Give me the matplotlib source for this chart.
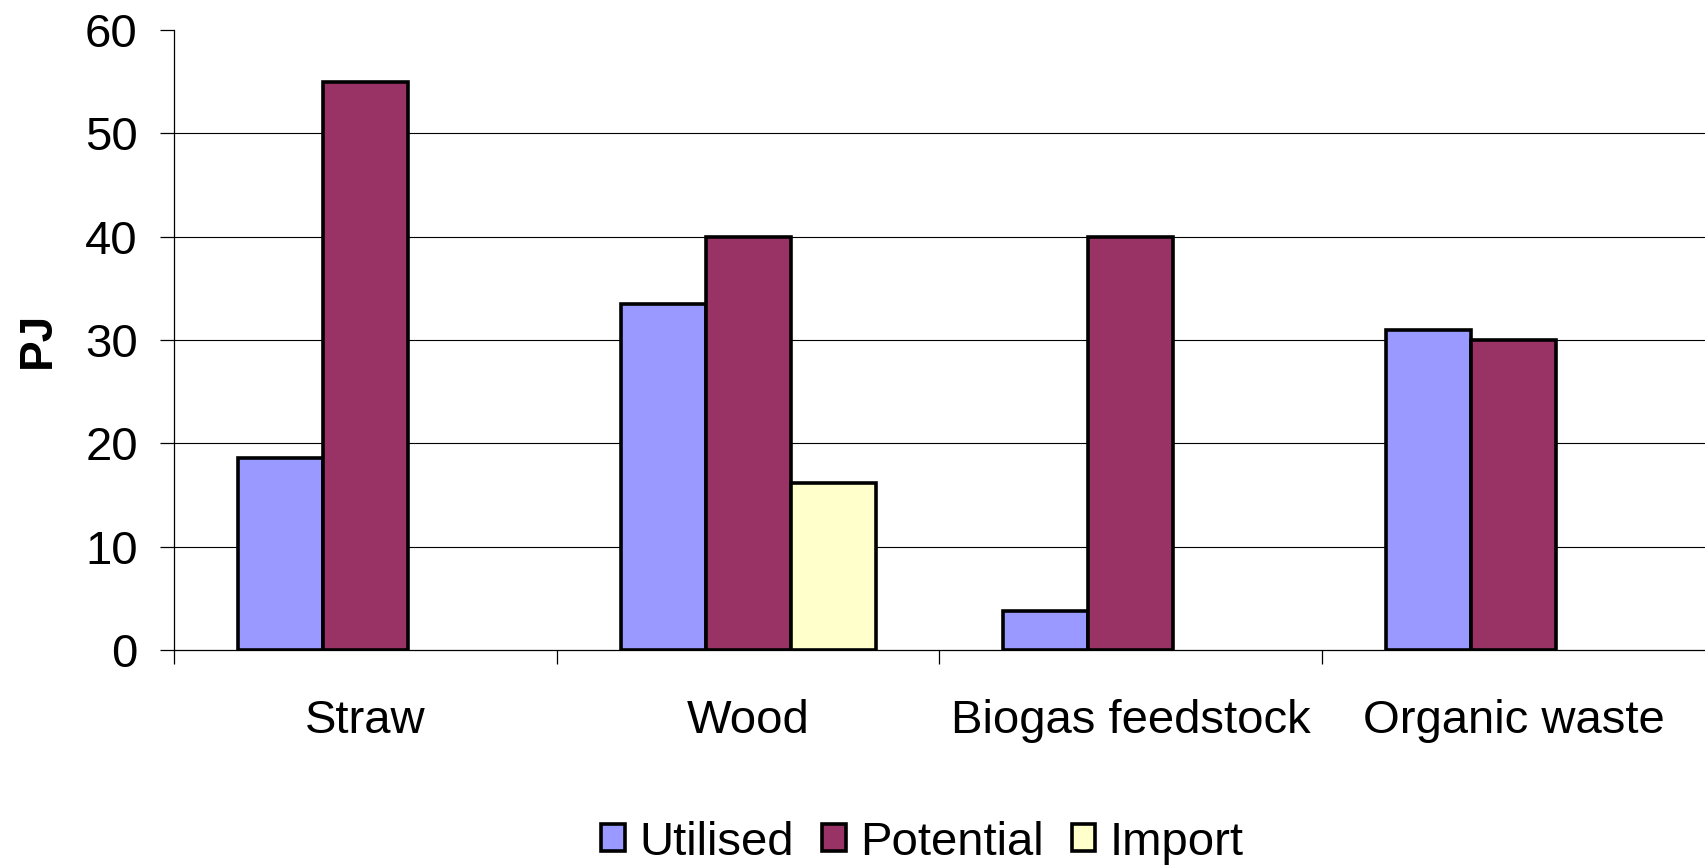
import numpy as np
import matplotlib.pyplot as plt

plt.rcParams['font.family'] = ['Liberation Sans', 'DejaVu Sans']

categories = ['Straw', 'Wood', 'Biogas feedstock', 'Organic waste']
series = ['Utilised', 'Potential', 'Import']
utilised = [18.6, 33.5, 3.8, 31.0]
potential = [55, 40, 40, 30]
imports = [0, 16.2, 0, 0]
colors = ['#9999FF', '#993366', '#FFFFCC']

fig = plt.figure(figsize=(17.05, 8.66), dpi=100)
ax = fig.add_axes([0.102, 0.2494, 0.898, 0.716])

x = np.arange(len(categories))
w = 0.222
for i, (vals, name) in enumerate(zip([utilised, potential, imports], series)):
    pos = x + (i - 1) * w
    vals = np.array(vals, dtype=float)
    mask = vals > 0
    ax.bar(pos[mask], vals[mask], width=w, color=colors[i], edgecolor='black',
           linewidth=2.6, label=name, zorder=3)

ax.set_xlim(-0.5, 3.5)
ax.set_ylim(0, 60)
ax.set_yticks(range(0, 61, 10))
for y in range(10, 60, 10):
    ax.axhline(y, color='black', linewidth=0.8, zorder=1)

ax.spines['top'].set_visible(False)
ax.spines['right'].set_visible(False)
ax.spines['left'].set_linewidth(0.9)
ax.spines['bottom'].set_linewidth(0.9)

ax.set_xticks(np.arange(-0.5, 3.5, 1.0))
ax.set_xticklabels([])
ax.set_xticks(x, minor=True)
ax.set_xticklabels(categories, minor=True)
ax.tick_params(axis='x', which='major', length=10, width=0.9)
ax.tick_params(axis='x', which='minor', length=0, pad=35, labelsize=34)
ax.tick_params(axis='y', length=10, width=0.9, pad=16, labelsize=34)

ax.set_ylabel('PJ', fontsize=33, fontweight='bold', labelpad=18)

fig.legend(loc='center', bbox_to_anchor=(0.541, 0.027), ncol=3, frameon=False,
           fontsize=34, handlelength=0.5, handleheight=0.5, handletextpad=0.3,
           columnspacing=0.6, borderpad=0)

fig.savefig('out.png', dpi=100)
